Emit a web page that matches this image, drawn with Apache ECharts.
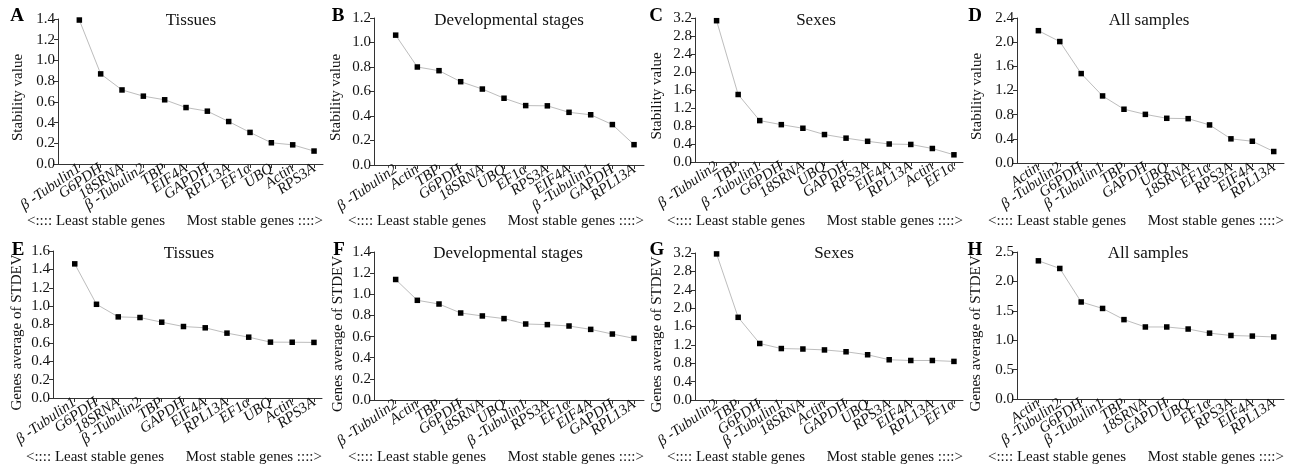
<!DOCTYPE html>
<html><head><meta charset="utf-8">
<script src="https://cdn.jsdelivr.net/npm/echarts@6/dist/echarts.min.js"></script>
<style>html,body{margin:0;padding:0;background:#fff}#c{width:1296px;height:473px}</style>
</head><body><div id="c"></div>
<script>
const catsA = ['β -Tubulin1','G6PDH','18SRNA','β -Tubulin2','TBP','EIF4A','GAPDH','RPL13A','EF1α','UBQ','Actin','RPS3A'];
const valsA = [1.39,0.87,0.715,0.655,0.62,0.545,0.51,0.41,0.305,0.205,0.185,0.125];
const catsB = ['β -Tubulin2','Actin','TBP','G6PDH','18SRNA','UBQ','EF1α','RPS3A','EIF4A','β -Tubulin1','GAPDH','RPL13A'];
const valsB = [1.06,0.80,0.77,0.68,0.62,0.545,0.485,0.483,0.43,0.41,0.33,0.166];
const catsC = ['β -Tubulin2','TBP','β -Tubulin1','G6PDH','18SRNA','UBQ','GAPDH','RPS3A','EIF4A','RPL13A','Actin','EF1α'];
const valsC = [3.14,1.50,0.92,0.83,0.75,0.61,0.53,0.46,0.40,0.39,0.30,0.16];
const catsD = ['Actin','β -Tubulin2','G6PDH','β -Tubulin1','TBP','GAPDH','UBQ','18SRNA','EF1α','RPS3A','EIF4A','RPL13A'];
const valsD = [2.19,2.01,1.48,1.11,0.89,0.805,0.74,0.734,0.63,0.40,0.36,0.19];
const catsE = ['β -Tubulin1','G6PDH','18SRNA','β -Tubulin2','TBP','GAPDH','EIF4A','RPL13A','EF1α','UBQ','Actin','RPS3A'];
const valsE = [1.46,1.02,0.883,0.876,0.825,0.778,0.764,0.706,0.662,0.608,0.607,0.605];
const catsF = ['β -Tubulin2','Actin','TBP','G6PDH','18SRNA','UBQ','β -Tubulin1','RPS3A','EF1α','EIF4A','GAPDH','RPL13A'];
const valsF = [1.14,0.943,0.908,0.823,0.795,0.77,0.719,0.713,0.70,0.668,0.624,0.583];
const catsG = ['β -Tubulin2','TBP','G6PDH','β -Tubulin1','18SRNA','Actin','GAPDH','UBQ','RPS3A','EIF4A','RPL13A','EF1α'];
const valsG = [3.18,1.80,1.23,1.12,1.11,1.09,1.05,0.985,0.876,0.86,0.86,0.84];
const catsH = ['Actin','β -Tubulin2','G6PDH','β -Tubulin1','TBP','18SRNA','GAPDH','UBQ','EF1α','RPS3A','EIF4A','RPL13A'];
const valsH = [2.35,2.22,1.65,1.54,1.35,1.225,1.225,1.19,1.12,1.08,1.07,1.055];

const letters = ['A','B','C','D','E','F','G','H'];
const titles = ['Tissues','Developmental stages','Sexes','All samples','Tissues','Developmental stages','Sexes','All samples'];
const yNames = ['Stability value','Stability value','Stability value','Stability value',
  'Genes average of STDEV','Genes average of STDEV','Genes average of STDEV','Genes average of STDEV'];
const yMaxes = [1.4,1.2,3.2,2.4,1.6,1.4,3.2,2.5];
const ySteps = [0.2,0.2,0.4,0.4,0.2,0.2,0.4,0.5];
const captionLeft = '<:::: Least stable genes';
const captionRight = 'Most stable genes ::::>';

const cats = [catsA,catsB,catsC,catsD,catsE,catsF,catsG,catsH];
const vals = [valsA,valsB,valsC,valsD,valsE,valsF,valsG,valsH];

// layout (pixels)
const layout = [
  {l:58, t:19, w:265, h:145, xMax:12.42, ng:32, shift:12, letter:[17,16], title:[191,21], cap:221},
  {l:374,t:18, w:270, h:147, xMax:12.46, ng:30, shift:12, letter:[338,16], title:[509,21], cap:221},
  {l:695,t:18, w:268, h:144, xMax:12.42, ng:30, shift:12, letter:[656,16], title:[816,21], cap:221},
  {l:1017,t:18,w:267, h:145, xMax:12.48, ng:32, shift:12, letter:[975,16], title:[1149,21], cap:221},
  {l:53, t:251,w:269, h:147, xMax:12.37, ng:28, shift:16, letter:[18,250], title:[189,254], cap:457},
  {l:374,t:252,w:270, h:148, xMax:12.46, ng:28, shift:16, letter:[339,250], title:[508,254], cap:457},
  {l:695,t:253,w:268, h:147, xMax:12.42, ng:30, shift:16, letter:[657,250], title:[834,254], cap:457},
  {l:1017,t:252,w:267,h:147, xMax:12.48, ng:33, shift:16, letter:[975,250], title:[1148,254], cap:457}
];

const FONT = 'Liberation Serif, Times New Roman, serif';
const tickPos = [1,2,3,4,5,6,7,8,9,10,11,12];
const axisColor = '#333';

const option = {
  animation: false,
  backgroundColor: '#fff',
  grid: layout.map(p => ({left:p.l, top:p.t, width:p.w, height:p.h, containLabel:false})),
  xAxis: layout.map((p,i) => ({
    gridIndex:i, type:'value', min:0, max:p.xMax, interval:1,
    splitLine:{show:false},
    axisLine:{show:true, onZero:false, lineStyle:{color:axisColor, width:1}},
    axisTick:{show:true, customValues:tickPos, length:4, lineStyle:{color:axisColor}},
    axisLabel:{customValues:[0].concat(tickPos, [p.xMax]), showMinLabel:false, showMaxLabel:false, hideOverlap:false,
      formatter:v => (v >= 1 && v <= 12 && Math.abs(v - Math.round(v)) < 1e-6) ? cats[i][Math.round(v)-1] : '',
      rotate:35, fontFamily:FONT, fontStyle:'italic', fontSize:15, color:'#111', margin:3}
  })),
  yAxis: layout.map((p,i) => ({
    gridIndex:i, type:'value', min:0, max:yMaxes[i], interval:ySteps[i],
    name:yNames[i], nameLocation:'middle', nameGap:p.ng,
    nameTextStyle:{fontFamily:FONT, fontSize:15, color:'#111', padding:[0, p.shift, 0, 0]},
    splitLine:{show:false},
    axisLine:{show:true, lineStyle:{color:axisColor, width:1}},
    axisTick:{show:true, length:4, lineStyle:{color:axisColor}},
    axisLabel:{fontFamily:FONT, fontSize:15, color:'#111', margin:3, formatter:v => v.toFixed(1)}
  })),
  series: layout.map((p,i) => ({
    type:'line', xAxisIndex:i, yAxisIndex:i,
    data: vals[i].map((v,k) => [k+1, v]),
    symbol:'rect', symbolSize:5.5,
    itemStyle:{color:'#000'},
    lineStyle:{color:'#bdbdbd', width:1},
    silent:true
  })),
  graphic: [].concat(
    layout.map((p,i) => ({type:'text', x:p.letter[0], y:p.letter[1],
      style:{text:letters[i], font:'bold 19px ' + FONT, fill:'#000', align:'center', verticalAlign:'middle'}})),
    layout.map((p,i) => ({type:'text', x:p.title[0], y:p.title[1],
      style:{text:titles[i], font:'17px ' + FONT, fill:'#111', align:'center', verticalAlign:'middle'}})),
    layout.map((p,i) => ({type:'text', x:p.l + p.w - 158, y:p.cap,
      style:{text:captionLeft, font:'15px ' + FONT, fill:'#111', align:'right', verticalAlign:'middle'}})),
    layout.map((p,i) => ({type:'text', x:p.l + p.w, y:p.cap,
      style:{text:captionRight, font:'15px ' + FONT, fill:'#111', align:'right', verticalAlign:'middle'}}))
  )
};

const chart = echarts.init(document.getElementById('c'), null, {renderer:'canvas'});
chart.setOption(option);
</script>
</body></html>
